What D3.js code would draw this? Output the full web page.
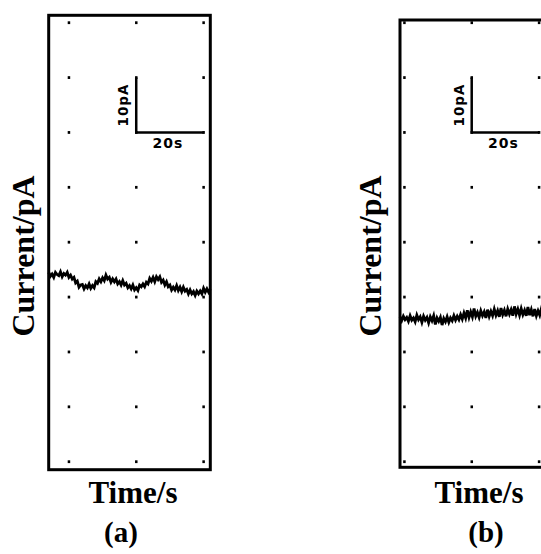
<!DOCTYPE html>
<html>
<head>
<meta charset="utf-8">
<script src="https://cdn.jsdelivr.net/npm/d3@7"></script>
<style>
  body { margin: 0; background: #fff; }
  svg { display: block; }
  .big { font-family: "Liberation Serif", "Times New Roman", serif; font-weight: bold; }
  .small { font-family: "DejaVu Sans", sans-serif; font-weight: bold; }
</style>
</head>
<body>
<div id="chart"></div>
<script>
// time axis of the recordings, in seconds (0.5 s steps)
const timesA = d3.range(0, 48.01, 0.5)
const timesB = d3.range(0, 48.01, 0.5)

// panel (a) current, pA
const currentA = [
  34.5, 33.8, 34.2, 33.6, 34.5, 34.1, 33.9, 34.6, 33.7, 34.3, 34.0, 34.5, 33.6, 34.0, 33.3, 33.6,
  32.6, 32.9, 31.8, 32.2, 32.3, 31.5, 32.1, 31.7, 32.4, 31.6, 32.1, 31.7, 32.8, 32.5, 33.3, 32.8,
  33.5, 33.0, 34.0, 33.3, 33.6, 32.7, 33.3, 32.8, 33.3, 32.4, 32.8, 32.2, 33.0, 32.2, 32.5, 31.7,
  32.1, 31.5, 32.2, 31.3, 31.7, 31.2, 32.2, 31.9, 32.4, 31.9, 32.7, 32.4, 33.4, 32.9, 33.6, 32.8,
  33.7, 33.2, 33.7, 32.7, 33.1, 32.2, 32.8, 31.9, 32.2, 31.3, 31.8, 31.3, 32.1, 31.2, 31.8, 31.0,
  31.8, 31.1, 31.4, 30.6, 31.3, 30.6, 31.0, 30.3, 31.1, 30.6, 31.1, 30.6, 31.6, 30.9, 31.5, 30.9,
  31.5
]

// panel (b) current, pA
const currentB = [
  26.4, 25.7, 26.5, 25.9, 26.3, 25.6, 26.6, 25.8, 26.2, 25.5, 26.7, 25.9, 26.4, 25.4, 26.5, 25.8,
  26.3, 25.3, 26.4, 25.7, 26.6, 25.0, 26.2, 25.6, 26.3, 24.9, 26.1, 25.5, 26.4, 25.4, 26.2, 25.7,
  26.6, 25.8, 26.5, 25.9, 26.8, 26.0, 27.1, 26.2, 27.6, 26.3, 27.3, 26.4, 27.9, 26.5, 27.2, 26.3,
  27.5, 26.6, 27.3, 26.2, 27.7, 26.5, 27.4, 26.6, 27.8, 26.7, 27.5, 26.4, 28.0, 26.8, 27.6, 26.5,
  27.8, 26.9, 27.7, 26.6, 28.3, 26.9, 27.8, 26.7, 27.9, 26.8, 27.6, 26.6, 28.2, 26.7, 27.7, 26.5,
  27.8, 26.6, 27.5, 26.7, 27.9, 26.8, 27.6, 26.7, 27.8, 26.9, 27.7, 26.8, 27.9, 26.9, 27.6, 26.8,
  27.7
]

// grid dots: current levels and times (every 10 pA / 20 s)
const gridLevels = [0, 10, 20, 30, 40, 50, 60, 70, 80]
const gridTimesA = [6, 26, 46]
const gridTimesB = [1.3, 21.3, 41.3]

// scale bar: 10 pA x 20 s
const barLevel = [60, 70]
const barTimeA = [26, 46]
const barTimeB = [21.3, 41.3]

const W = 541, H = 554

const svg = d3.select('#chart').append('svg')
    .attr('width', W)
    .attr('height', H)

svg.append('rect').attr('width', W).attr('height', H).attr('fill', '#fff')

const y = d3.scaleLinear().domain([0, 80]).range([461.7, 22.7])

const panels = [
  {left: 48.7, top: 15.3, bottom: 469.7, times: timesA, vals: currentA, gridT: gridTimesA, barT: barTimeA,
   ylabX: 34, xlabX: 133, tagX: 121, tag: '(a)'},
  {left: 400, top: 20, bottom: 467.3, times: timesB, vals: currentB, gridT: gridTimesB, barT: barTimeB,
   ylabX: 381, xlabX: 479, tagX: 486, tag: '(b)'}
]

panels.forEach(p => {
  const x = d3.scaleLinear().domain([0, 48]).range([p.left, p.left + 161.6])
  const g = svg.append('g')

  // dots
  gridLevels.forEach(v => {
    p.gridT.forEach(t => {
      g.append('rect')
        .attr('x', x(t) - 1.2)
        .attr('y', y(v) - 1.4)
        .attr('width', 2.5)
        .attr('height', 2.8)
        .attr('fill', '#000')
    })
  })

  // frame
  g.append('rect')
    .attr('x', x(0))
    .attr('y', p.top)
    .attr('width', x(48) - x(0))
    .attr('height', p.bottom - p.top)
    .attr('fill', 'none')
    .attr('stroke', '#000')
    .attr('stroke-width', 3)

  // scale bar
  g.append('path')
    .attr('d', `M${x(p.barT[0])},${y(barLevel[1])}V${y(barLevel[0])}H${x(p.barT[1])}`)
    .attr('fill', 'none')
    .attr('stroke', '#000')
    .attr('stroke-width', 2.5)

  g.append('text')
    .attr('class', 'small')
    .attr('transform', `translate(${x(p.barT[0]) - 8},${y(d3.mean(barLevel))}) rotate(-90)`)
    .attr('text-anchor', 'middle')
    .attr('font-size', 13.5)
    .attr('letter-spacing', 1)
    .text('10pA')

  g.append('text')
    .attr('class', 'small')
    .attr('x', x(d3.mean(p.barT)) - 2)
    .attr('y', y(barLevel[0]) + 16)
    .attr('text-anchor', 'middle')
    .attr('font-size', 14)
    .attr('letter-spacing', 1)
    .text('20s')

  // trace
  const line = d3.line()
    .x((d, i) => x(p.times[i]))
    .y(d => y(d))

  g.append('path')
    .datum(p.vals)
    .attr('d', line)
    .attr('fill', 'none')
    .attr('stroke', '#000')
    .attr('stroke-width', 2.8)

  // labels
  svg.append('text')
    .attr('class', 'big')
    .attr('transform', `translate(${p.ylabX},256) rotate(-90)`)
    .attr('text-anchor', 'middle')
    .attr('font-size', 32)
    .text('Current/pA')

  svg.append('text')
    .attr('class', 'big')
    .attr('x', p.xlabX)
    .attr('y', 503)
    .attr('text-anchor', 'middle')
    .attr('font-size', 31)
    .text('Time/s')

  svg.append('text')
    .attr('class', 'big')
    .attr('x', p.tagX)
    .attr('y', 542)
    .attr('text-anchor', 'middle')
    .attr('font-size', 29)
    .text(p.tag)
})
</script>
</body>
</html>
